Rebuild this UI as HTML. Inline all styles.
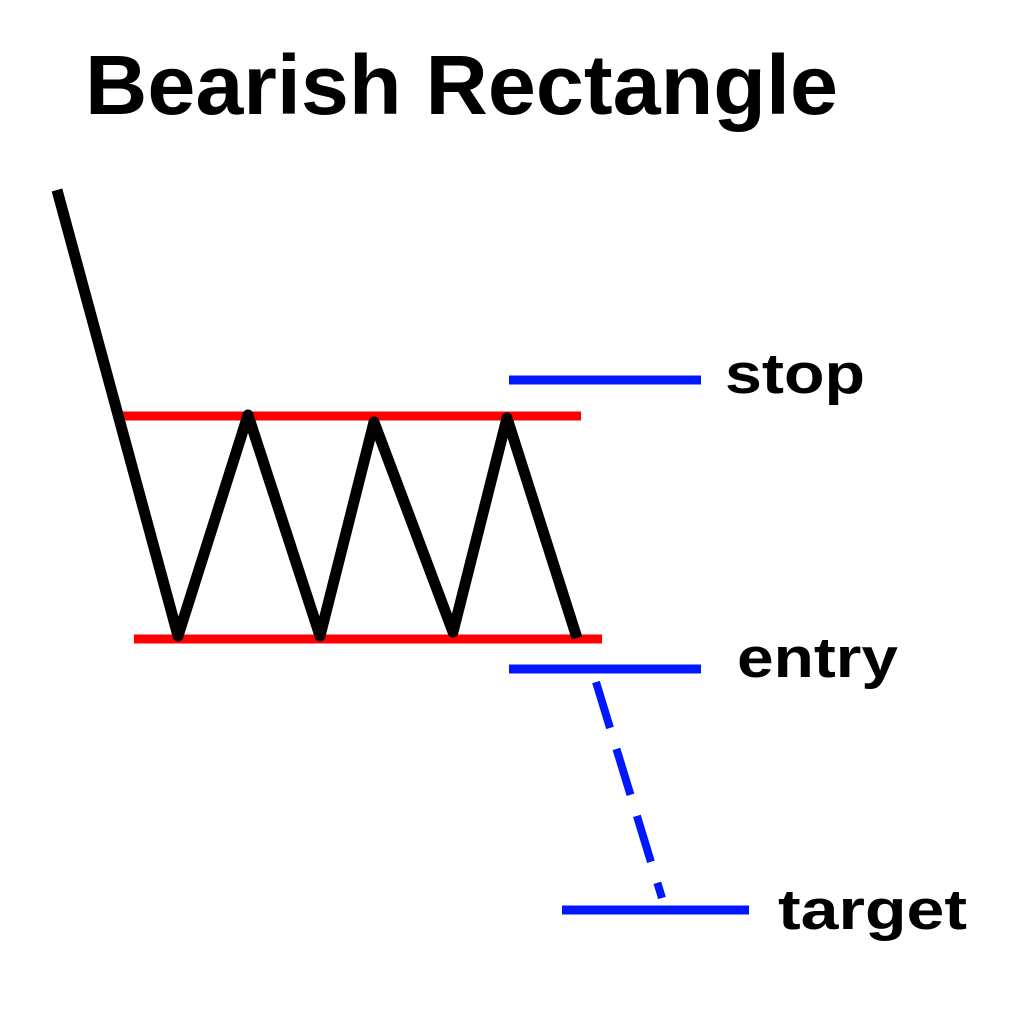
<!DOCTYPE html>
<html><head><meta charset="utf-8"><style>html,body{margin:0;padding:0;background:#fff}</style></head>
<body>
<svg width="1024" height="1024" viewBox="0 0 1024 1024" xmlns="http://www.w3.org/2000/svg">
<rect width="1024" height="1024" fill="#fff"/>
<text x="85" y="114" font-family="Liberation Sans, sans-serif" font-weight="bold" font-size="84" textLength="753" lengthAdjust="spacingAndGlyphs">Bearish Rectangle</text>
<line x1="120" y1="416" x2="581" y2="416" stroke="#f00" stroke-width="9"/>
<line x1="134" y1="639" x2="602" y2="639" stroke="#f00" stroke-width="9"/>
<polyline points="57,190 178,636 248,415 320,636 374,422 453,632 507,418 577,638" fill="none" stroke="#000" stroke-width="11" stroke-linejoin="round"/>
<line x1="509" y1="380" x2="701" y2="380" stroke="#0018ff" stroke-width="9"/>
<line x1="509" y1="669" x2="701" y2="669" stroke="#0018ff" stroke-width="9"/>
<line x1="562" y1="910" x2="749" y2="910" stroke="#0018ff" stroke-width="9"/>
<line x1="596" y1="682" x2="662" y2="898" stroke="#0018ff" stroke-width="8" stroke-dasharray="48,22"/>
<text x="725" y="393" font-family="Liberation Sans, sans-serif" font-weight="bold" font-size="57" textLength="140" lengthAdjust="spacingAndGlyphs">stop</text>
<text x="737" y="677" font-family="Liberation Sans, sans-serif" font-weight="bold" font-size="57" textLength="161" lengthAdjust="spacingAndGlyphs">entry</text>
<text x="778" y="929" font-family="Liberation Sans, sans-serif" font-weight="bold" font-size="57" textLength="189" lengthAdjust="spacingAndGlyphs">target</text>
</svg>
</body></html>
